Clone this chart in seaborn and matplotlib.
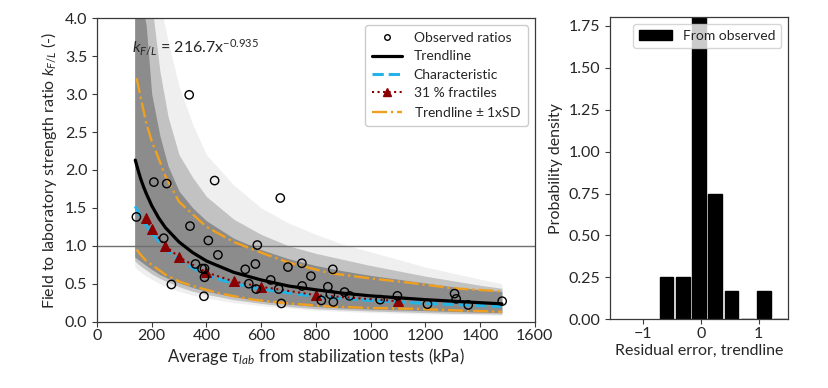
import matplotlib
matplotlib.use("Agg")
import matplotlib.pyplot as plt
import seaborn as sns
import numpy as np
import pandas as pd
from matplotlib.lines import Line2D
from matplotlib.patches import Patch

# ---------------- data ----------------
obs_x = [208, 255, 430, 144, 340, 244, 407, 442, 360, 384, 393, 393, 272, 391, 337,
         670, 586, 542, 579, 698, 749, 862, 782, 635, 555, 582, 664, 750, 844, 853,
         820, 864, 674, 905, 923, 1035, 1098, 1208, 1307, 1313, 1357, 1481]
obs_y = [1.84, 1.82, 1.86, 1.38, 1.26, 1.10, 1.07, 0.88, 0.76, 0.70, 0.70, 0.585, 0.49, 0.335, 2.99,
         1.63, 1.01, 0.69, 0.76, 0.72, 0.77, 0.69, 0.60, 0.55, 0.50, 0.43, 0.43, 0.47, 0.46, 0.36,
         0.28, 0.26, 0.24, 0.39, 0.34, 0.29, 0.34, 0.23, 0.37, 0.30, 0.22, 0.27]

trend_x = [140, 150, 160, 170, 180, 200, 225, 250, 300, 350, 400, 500, 600, 700, 800, 900, 1000, 1200, 1400, 1480]
trend_y = [2.13, 2.00, 1.88, 1.78, 1.69, 1.53, 1.37, 1.24, 1.05, 0.91, 0.80, 0.65, 0.55, 0.47, 0.42, 0.375, 0.34, 0.29, 0.25, 0.235]

char_x = [140, 160, 180, 200, 250, 300, 400, 500, 600, 800, 1000, 1200, 1480]
char_y = [1.52, 1.38, 1.27, 1.17, 0.96, 0.81, 0.61, 0.50, 0.43, 0.33, 0.28, 0.24, 0.20]

frac_x = [180, 200, 250, 300, 400, 500, 600, 800, 1100]
frac_y = [1.36, 1.22, 1.00, 0.85, 0.65, 0.53, 0.46, 0.35, 0.27]

sd_hi_x = [145, 160, 180, 200, 220, 250, 300, 400, 500, 600, 700, 850, 1000, 1150, 1300, 1480]
sd_hi_y = [3.21, 2.95, 2.62, 2.38, 2.20, 1.92, 1.58, 1.25, 1.05, 0.91, 0.78, 0.64, 0.57, 0.51, 0.44, 0.40]
sd_lo_x = [145, 160, 180, 200, 250, 300, 350, 450, 570, 700, 850, 1000, 1150, 1300, 1480]
sd_lo_y = [0.95, 0.88, 0.80, 0.75, 0.62, 0.53, 0.47, 0.37, 0.29, 0.24, 0.20, 0.18, 0.17, 0.15, 0.13]

# simulated cloud envelopes
cloud_x = [138, 150, 165, 180, 200, 230, 260, 300, 350, 400, 500, 600, 700, 800, 900, 1000, 1100, 1200, 1300, 1400, 1480]
cloud_core_hi = [4.2, 4.2, 4.2, 3.9, 3.0, 2.45, 2.05, 1.72, 1.5, 1.33, 1.1, 0.95, 0.83, 0.74, 0.67, 0.61, 0.56, 0.51, 0.46, 0.42, 0.40]
cloud_core_lo = [0.85, 0.82, 0.78, 0.74, 0.69, 0.62, 0.57, 0.51, 0.45, 0.40, 0.33, 0.27, 0.23, 0.20, 0.18, 0.165, 0.155, 0.145, 0.135, 0.125, 0.12]
cloud_mid_hi = [4.2, 4.2, 4.2, 4.2, 4.2, 3.3, 2.7, 2.2, 1.9, 1.65, 1.35, 1.15, 1.0, 0.9, 0.82, 0.74, 0.67, 0.60, 0.54, 0.48, 0.44]
cloud_mid_lo = [0.8, 0.76, 0.72, 0.68, 0.63, 0.57, 0.52, 0.46, 0.40, 0.36, 0.29, 0.24, 0.20, 0.17, 0.155, 0.14, 0.13, 0.12, 0.11, 0.105, 0.10]
cloud_out_hi = [4.2, 4.2, 4.2, 4.2, 4.2, 4.2, 3.7, 3.1, 2.6, 2.2, 1.8, 1.5, 1.3, 1.15, 1.02, 0.92, 0.82, 0.72, 0.64, 0.56, 0.50]
cloud_out_lo = [0.72, 0.68, 0.64, 0.60, 0.56, 0.50, 0.45, 0.40, 0.35, 0.31, 0.25, 0.21, 0.18, 0.15, 0.135, 0.12, 0.11, 0.10, 0.095, 0.09, 0.085]

hist_centers = [-0.59, -0.31, -0.03, 0.25, 0.53, 0.81, 1.09, 1.37]
hist_edges = [-0.73, -0.45, -0.17, 0.11, 0.39, 0.67, 0.95, 1.23, 1.51]
hist_density = [0.25, 0.25, 1.85, 0.75, 0.167, 0.0, 0.167, 0.0]

# ---------------- style ----------------
sns.set_style("ticks")
plt.rcParams['font.family'] = ['Lato', 'DejaVu Sans']
plt.rcParams['mathtext.fontset'] = 'custom'
plt.rcParams['mathtext.rm'] = 'Lato'
plt.rcParams['mathtext.it'] = 'Lato:italic'
plt.rcParams['mathtext.fallback'] = 'cm'

SPINE = '#3a3a3a'
CYAN = '#22b4e6'
DRED = '#8b0000'
ORANGE = '#f0a020'

fig = plt.figure(figsize=(8.29, 3.88), dpi=100)
ax = fig.add_axes([0.117, 0.171, 0.528, 0.782])
ax2 = fig.add_axes([0.736, 0.177, 0.215, 0.778])

# cloud
ax.fill_between(cloud_x, cloud_out_lo, cloud_out_hi, color='#efefef', lw=0, zorder=0)
ax.fill_between(cloud_x, cloud_mid_lo, cloud_mid_hi, color='#c2c2c2', lw=0, zorder=0.5)
ax.fill_between(cloud_x, cloud_core_lo, cloud_core_hi, color='#8c8c8c', lw=0, zorder=0.8)

ax.axhline(1.0, color='#707070', lw=1.0, zorder=1)

sns.lineplot(x=sd_hi_x, y=sd_hi_y, ax=ax, color=ORANGE, linestyle='-.', lw=1.7, sort=False, zorder=3)
sns.lineplot(x=sd_lo_x, y=sd_lo_y, ax=ax, color=ORANGE, linestyle='-.', lw=1.7, sort=False, zorder=3)
sns.lineplot(x=char_x, y=char_y, ax=ax, color=CYAN, linestyle='--', lw=2.2, sort=False, zorder=3)
sns.lineplot(x=frac_x, y=frac_y, ax=ax, color=DRED, linestyle=':', lw=1.5, marker='^',
             markersize=7, markeredgecolor=DRED, sort=False, zorder=4)
sns.lineplot(x=trend_x, y=trend_y, ax=ax, color='black', lw=2.3, sort=False, zorder=4)
sns.scatterplot(x=obs_x, y=obs_y, ax=ax, marker='o', s=36, facecolor='none',
                edgecolor='black', linewidth=1.0, zorder=5)

ax.set_xlim(0, 1600)
ax.set_ylim(0, 4.0)
ax.set_xticks(np.arange(0, 1601, 200))
ax.set_yticks(np.arange(0, 4.01, 0.5))
ax.set_yticklabels([f"{v:.1f}" for v in np.arange(0, 4.01, 0.5)])
ax.set_xlabel(r"Average $\tau_{lab}$ from stabilization tests (kPa)", fontsize=12, labelpad=2)
ax.set_ylabel(r"Field to laboratory strength ratio $k_{F/L}$ (-)", fontsize=11.5)
ax.tick_params(labelsize=11.5, length=3.5, color=SPINE)
ax.tick_params(axis='x', pad=2)
for s in ax.spines.values():
    s.set_color(SPINE)
    s.set_linewidth(0.9)

ax.text(128, 3.62, r"$k_{F/L}$ = 216.7x$^{-0.935}$", fontsize=11.5, va='center', ha='left')

handles = [
    Line2D([], [], marker='o', ls='none', markerfacecolor='none', markeredgecolor='black', markersize=4, mew=1),
    Line2D([], [], color='black', lw=2.3),
    Line2D([], [], color=CYAN, lw=2.2, ls='--'),
    Line2D([], [], color=DRED, lw=1.5, ls=':', marker='^', markersize=6),
    Line2D([], [], color=ORANGE, lw=1.7, ls='-.'),
]
labels = ["Observed ratios", "Trendline", "Characteristic", "31 % fractiles", "Trendline $\\pm$ 1xSD"]
leg = ax.legend(handles, labels, loc='upper right', fontsize=10, frameon=True, fancybox=True,
                framealpha=1, edgecolor='#cccccc', handlelength=2.2, borderpad=0.5, labelspacing=0.45)

# histogram
sns.histplot(x=hist_centers, weights=hist_density, bins=hist_edges, ax=ax2, color='black',
             edgecolor='black', alpha=1, shrink=0.84, linewidth=1.0, stat='count')
ax2.set_xlim(-1.56, 1.51)
ax2.set_ylim(0, 1.8)
ax2.set_xticks([-1, 0, 1])
ax2.set_xticklabels(['\u22121', '0', '1'])
ax2.set_yticks(np.arange(0, 1.76, 0.25))
ax2.set_yticklabels([f"{v:.2f}" for v in np.arange(0, 1.76, 0.25)])
ax2.set_xlabel("Residual error, trendline", fontsize=11.5, labelpad=2)
ax2.set_ylabel("Probability density", fontsize=11.5)
ax2.tick_params(labelsize=11.5, length=3.5, color=SPINE)
ax2.tick_params(axis='x', pad=2)
for s in ax2.spines.values():
    s.set_color(SPINE)
    s.set_linewidth(0.9)
ax2.legend([Patch(facecolor='black', edgecolor='black')], ["From observed"], loc='upper right',
           fontsize=10, frameon=True, framealpha=0.8, edgecolor='#cccccc', handlelength=2.4)

fig.savefig("out.png", dpi=100)
